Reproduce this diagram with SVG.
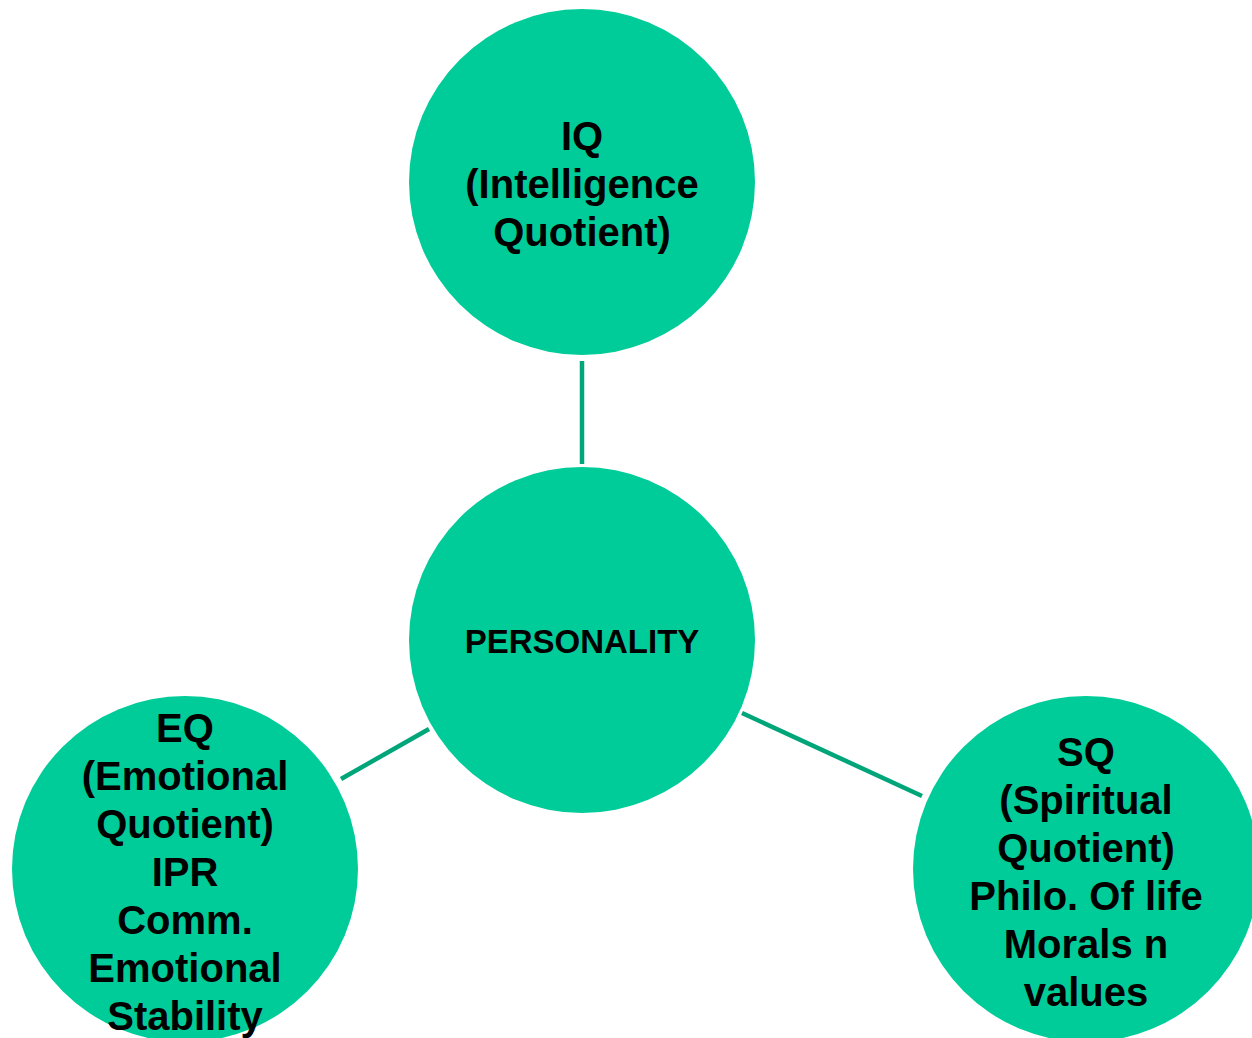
<svg xmlns="http://www.w3.org/2000/svg" width="1252" height="1038" viewBox="0 0 1252 1038">
<style>
.node{fill:#00CC99;}
.t{font-family:"Liberation Sans",Arial,sans-serif;font-weight:bold;font-size:40px;fill:#000;text-anchor:middle;}
.ts{font-size:33px;}
.conn line{stroke:#00A57A;stroke-width:4.5;}
</style>
<rect width="1252" height="1038" fill="#fff"/>
<g id="connectors" class="conn">
<line x1="582" y1="361" x2="582" y2="464"/>
<line x1="341" y1="779" x2="429" y2="729"/>
<line x1="742" y1="713" x2="922" y2="796"/>
</g>
<g id="iq">
<circle class="node" cx="582" cy="182" r="173"/>
<text class="t" x="582"><tspan x="582" y="150">IQ</tspan><tspan x="582" y="198">(Intelligence</tspan><tspan x="582" y="246">Quotient)</tspan></text>
</g>
<g id="personality">
<circle class="node" cx="582" cy="640" r="173"/>
<text class="t ts" x="582" y="653">PERSONALITY</text>
</g>
<g id="eq">
<circle class="node" cx="185" cy="869" r="173"/>
<text class="t"><tspan x="185" y="742">EQ</tspan><tspan x="185" y="790">(Emotional</tspan><tspan x="185" y="838">Quotient)</tspan><tspan x="185" y="886">IPR</tspan><tspan x="185" y="934">Comm.</tspan><tspan x="185" y="982">Emotional</tspan><tspan x="185" y="1030">Stability</tspan></text>
</g>
<g id="sq">
<circle class="node" cx="1086" cy="869" r="173"/>
<text class="t"><tspan x="1086" y="766">SQ</tspan><tspan x="1086" y="814">(Spiritual</tspan><tspan x="1086" y="862">Quotient)</tspan><tspan x="1086" y="910">Philo. Of life</tspan><tspan x="1086" y="958">Morals n</tspan><tspan x="1086" y="1006">values</tspan></text>
</g>
</svg>
